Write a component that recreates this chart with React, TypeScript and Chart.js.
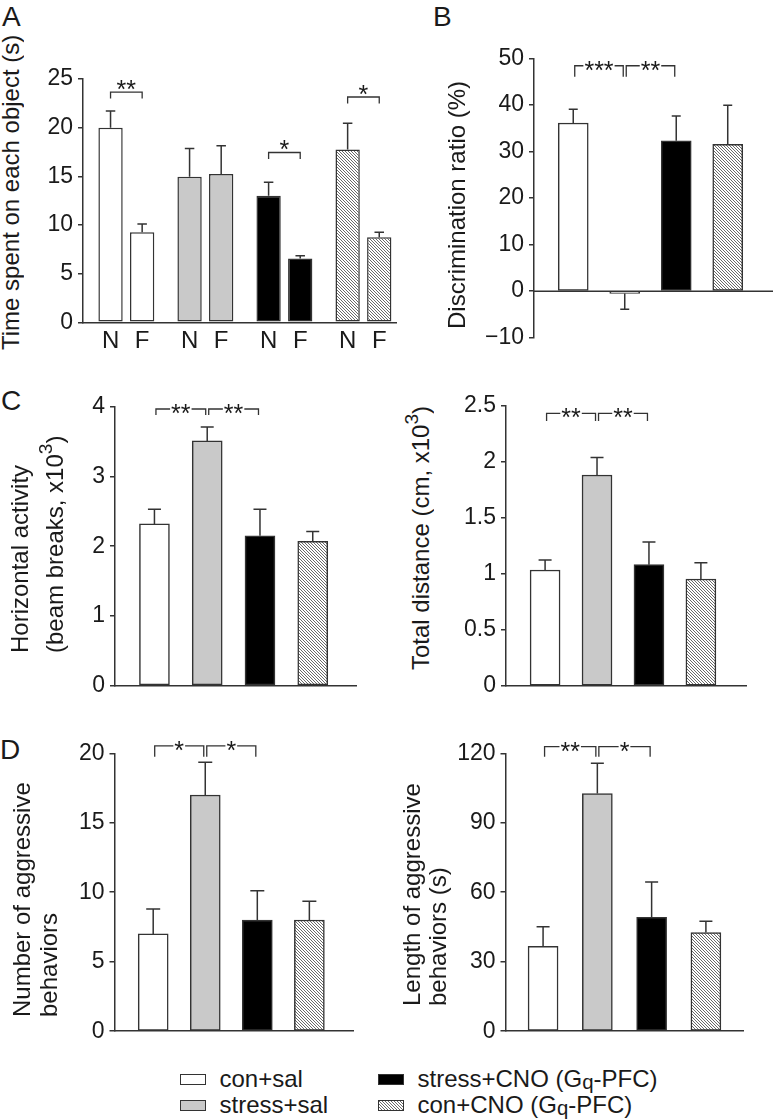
import React, { useEffect, useRef } from "react";
import { Chart, registerables } from "chart.js";

Chart.register(...registerables);

const FONT = "'Liberation Sans', Arial, Helvetica, sans-serif";
const INK = "#1a1a1a";
const LINE = "#333333";

// ---------- data ----------
const groups = ["con+sal", "stress+sal", "stress+CNO (Gq-PFC)", "con+CNO (Gq-PFC)"];
const groupFills = ["#ffffff", "#c9c9c9", "#000000", "hatch"];

// A: time spent on novel (N) / familiar (F) object
const objectLabels = ["N", "F"];
const novelTime = [20.0, 14.95, 13.0, 17.75];
const novelErr = [1.7, 2.9, 1.4, 2.7];
const familiarTime = [9.25, 15.25, 6.55, 8.75];
const familiarErr = [0.85, 2.9, 0.3, 0.5];
const timeTicks = [0, 5, 10, 15, 20, 25];
const timeSigGroups = [0, 2, 3];
const timeSigLabels = ["**", "*", "*"];
const timeSigLevels = [23.66, 17.45, 23.15];

// B: discrimination ratio
const discRatio = [36.1, -0.5, 32.3, 31.5];
const discErr = [2.95, 3.4, 5.3, 8.4];
const discTicks = [-10, 0, 10, 20, 30, 40, 50];
const discSig: [number, number, string][] = [[0, 1, "***"], [1, 2, "**"]];

// C: horizontal activity, total distance
const horizActivity = [2.32, 3.51, 2.15, 2.07];
const horizErr = [0.21, 0.2, 0.38, 0.14];
const horizTicks = [0, 1, 2, 3, 4];
const horizSig: [number, number, string][] = [[0, 1, "**"], [1, 2, "**"]];

const totalDist = [1.036, 1.884, 1.083, 0.955];
const totalDistErr = [0.089, 0.156, 0.203, 0.145];
const totalDistTicks = [0, 0.5, 1, 1.5, 2, 2.5];
const totalDistSig: [number, number, string][] = [[0, 1, "**"], [1, 2, "**"]];

// D: aggressive behaviours
const aggrCount = [7, 17, 8, 8];
const aggrCountErr = [1.8, 2.35, 2.1, 1.35];
const aggrCountTicks = [0, 5, 10, 15, 20];
const aggrCountSig: [number, number, string][] = [[0, 1, "*"], [1, 2, "*"]];

const aggrLength = [36.7, 102.6, 49.2, 42.6];
const aggrLengthErr = [8.4, 13.1, 15.2, 4.9];
const aggrLengthTicks = [0, 30, 60, 90, 120];
const aggrLengthSig: [number, number, string][] = [[0, 1, "**"], [1, 2, "*"]];

// ---------- helpers ----------
let hatchTile: HTMLCanvasElement | null = null;
function getHatchTile(): HTMLCanvasElement {
  if (hatchTile) return hatchTile;
  const c = document.createElement("canvas");
  c.width = 3;
  c.height = 3;
  const g = c.getContext("2d")!;
  g.fillStyle = "#ffffff";
  g.fillRect(0, 0, 3, 3);
  g.fillStyle = "#6a6a6a";
  for (let i = 0; i < 3; i++) g.fillRect(i, i, 1, 1);
  hatchTile = c;
  return c;
}

type SigItem = { a: [number, number]; b: [number, number]; label: string; level: number };

interface PanelCfg {
  left: number; top: number; width: number; height: number;
  axisX: number; plotTop: number; plotBottom: number; plotRight: number;
  yMin: number; yMax: number; yTicks: number[];
  xMin: number; xMax: number;
  series: { values: number[]; errors: number[] }[];
  barThickness?: number; barPct?: number; catPct?: number;
  capWidth: number;
  zeroLine?: boolean;
  sig: SigItem[];
  sigMode: "inline" | "above";
  sigDrop: number;
  sigInset: number;
  barLabels?: string[];
}

function pairSig(list: [number, number, string][], level: number): SigItem[] {
  return list.map(([f, t, l]) => ({ a: [0, f], b: [0, t], label: l, level }));
}

const fmtTick = (v: number) => (v < 0 ? "\u2212" + Math.abs(v) : String(v));

function buildChart(canvas: HTMLCanvasElement, cfg: PanelCfg) {
  const ctx0 = canvas.getContext("2d")!;
  const hatch = ctx0.createPattern(getHatchTile(), "repeat");
  const fills = groupFills.map((f) => (f === "hatch" ? hatch : f));

  const datasets = cfg.series.map((s) => {
    const d: any = {
      data: s.values.map((v, i) => ({ x: i, y: v })),
      backgroundColor: fills,
      borderColor: LINE,
      borderWidth: 1.5,
      borderSkipped: false,
      barPercentage: cfg.barPct ?? 0.9,
      categoryPercentage: cfg.catPct ?? 0.8,
    };
    if (cfg.barThickness) d.barThickness = cfg.barThickness;
    return d;
  });

  const yW = cfg.axisX - cfg.left;
  const pad = {
    left: 0,
    top: cfg.plotTop - cfg.top,
    right: cfg.left + cfg.width - cfg.plotRight,
    bottom: cfg.top + cfg.height - cfg.plotBottom,
  };

  const overlay = {
    id: "overlay",
    afterDatasetsDraw(chart: any) {
      const ctx: CanvasRenderingContext2D = chart.ctx;
      const ys = chart.scales.y;
      const area = chart.chartArea;
      ctx.save();
      ctx.strokeStyle = LINE;
      ctx.fillStyle = INK;
      if (cfg.zeroLine) {
        const y0 = ys.getPixelForValue(0);
        ctx.lineWidth = 1.5;
        ctx.beginPath();
        ctx.moveTo(area.left, y0);
        ctx.lineTo(area.right, y0);
        ctx.stroke();
      }
      // error bars
      ctx.lineWidth = 1.5;
      cfg.series.forEach((s, di) => {
        const meta = chart.getDatasetMeta(di);
        meta.data.forEach((el: any, i: number) => {
          const v = s.values[i];
          const e = s.errors[i];
          const sgn = v < 0 ? -1 : 1;
          const ya = ys.getPixelForValue(v);
          const yb = ys.getPixelForValue(v + sgn * e);
          ctx.beginPath();
          ctx.moveTo(el.x, ya);
          ctx.lineTo(el.x, yb);
          ctx.moveTo(el.x - cfg.capWidth / 2, yb);
          ctx.lineTo(el.x + cfg.capWidth / 2, yb);
          ctx.stroke();
        });
      });
      // significance brackets
      ctx.lineWidth = 1.3;
      ctx.font = `25px ${FONT}`;
      ctx.textAlign = "center";
      ctx.textBaseline = "alphabetic";
      cfg.sig.forEach((b) => {
        const yv = ys.getPixelForValue(b.level);
        const xa = chart.getDatasetMeta(b.a[0]).data[b.a[1]].x + cfg.sigInset;
        const xb = chart.getDatasetMeta(b.b[0]).data[b.b[1]].x - cfg.sigInset;
        const m = ctx.measureText(b.label);
        const mid = (m.actualBoundingBoxAscent - m.actualBoundingBoxDescent) / 2;
        const xm = (xa + xb) / 2;
        ctx.beginPath();
        if (cfg.sigMode === "inline") {
          ctx.moveTo(xa, yv + cfg.sigDrop);
          ctx.lineTo(xa, yv);
          ctx.lineTo(xm - m.width / 2 - 1, yv);
          ctx.moveTo(xm + m.width / 2 + 1, yv);
          ctx.lineTo(xb, yv);
          ctx.lineTo(xb, yv + cfg.sigDrop);
          ctx.stroke();
          ctx.fillText(b.label, xm, yv + mid);
        } else {
          ctx.moveTo(xa, yv + cfg.sigDrop);
          ctx.lineTo(xa, yv);
          ctx.lineTo(xb, yv);
          ctx.lineTo(xb, yv + cfg.sigDrop);
          ctx.stroke();
          ctx.fillText(b.label, xm, yv - 7 + mid);
        }
      });
      // per-bar labels (N / F)
      if (cfg.barLabels) {
        ctx.font = `24px ${FONT}`;
        ctx.textBaseline = "middle";
        cfg.barLabels.forEach((lab, di) => {
          chart.getDatasetMeta(di).data.forEach((el: any) => {
            ctx.fillText(lab, el.x, area.bottom + 19);
          });
        });
      }
      ctx.restore();
    },
  };

  return new Chart(canvas, {
    type: "bar",
    data: { datasets },
    options: {
      responsive: false,
      animation: false,
      events: [],
      layout: { padding: pad },
      plugins: { legend: { display: false }, tooltip: { enabled: false } },
      scales: {
        x: {
          type: "linear",
          min: cfg.xMin,
          max: cfg.xMax,
          offset: false,
          afterBuildTicks: (s: any) => { s.ticks = []; },
          afterFit: (s: any) => { s.height = 0; },
          ticks: { display: false },
          grid: { display: false },
          border: { display: !cfg.zeroLine, color: LINE, width: 1.5 },
        },
        y: {
          type: "linear",
          min: cfg.yMin,
          max: cfg.yMax,
          afterBuildTicks: (s: any) => { s.ticks = cfg.yTicks.map((v) => ({ value: v })); },
          afterFit: (s: any) => { s.width = yW; },
          ticks: {
            autoSkip: false,
            padding: 5,
            color: INK,
            font: { family: FONT, size: 23 },
            callback: (v: any) => fmtTick(Number(v)),
          },
          grid: { display: true, drawOnChartArea: false, drawTicks: true, tickLength: 5, color: LINE, lineWidth: 1.5 },
          border: { display: true, color: LINE, width: 1.5 },
        },
      },
    } as any,
    plugins: [overlay as any],
  });
}

// ---------- panel configs ----------
const panels: PanelCfg[] = [
  {
    left: 30, top: 40, width: 370, height: 325,
    axisX: 83, plotTop: 79, plotBottom: 322.3, plotRight: 396,
    yMin: 0, yMax: 25, yTicks: timeTicks,
    xMin: -0.5485, xMax: 3.412,
    series: [{ values: novelTime, errors: novelErr }, { values: familiarTime, errors: familiarErr }],
    barPct: 0.769, catPct: 0.8,
    capWidth: 9.5,
    sig: timeSigGroups.map((g, k) => ({ a: [0, g], b: [1, g], label: timeSigLabels[k], level: timeSigLevels[k] })),
    sigMode: "above", sigDrop: 6.5, sigInset: 0,
    barLabels: objectLabels,
  },
  {
    left: 470, top: 30, width: 305, height: 330,
    axisX: 534, plotTop: 58.3, plotBottom: 337.7, plotRight: 773,
    yMin: -10, yMax: 50, yTicks: discTicks,
    xMin: -0.762, xMax: 3.879,
    series: [{ values: discRatio, errors: discErr }],
    barThickness: 30, capWidth: 9, zeroLine: true,
    sig: pairSig(discSig, 48.4), sigMode: "inline", sigDrop: 11, sigInset: 1.5,
  },
  {
    left: 70, top: 380, width: 300, height: 330,
    axisX: 115, plotTop: 406.7, plotBottom: 685.7, plotRight: 356.7,
    yMin: 0, yMax: 4, yTicks: horizTicks,
    xMin: -0.7476, xMax: 3.833,
    series: [{ values: horizActivity, errors: horizErr }],
    barThickness: 30, capWidth: 13,
    sig: pairSig(horizSig, 3.967), sigMode: "inline", sigDrop: 6, sigInset: 1.5,
  },
  {
    left: 440, top: 380, width: 320, height: 330,
    axisX: 506, plotTop: 406, plotBottom: 686, plotRight: 746.7,
    yMin: 0, yMax: 2.5, yTicks: totalDistTicks,
    xMin: -0.7526, xMax: 3.882,
    series: [{ values: totalDist, errors: totalDistErr }],
    barThickness: 30, capWidth: 13,
    sig: pairSig(totalDistSig, 2.435), sigMode: "inline", sigDrop: 7.7, sigInset: 1.5,
  },
  {
    left: 70, top: 720, width: 300, height: 330,
    axisX: 114.5, plotTop: 753.3, plotBottom: 1032.4, plotRight: 353.3,
    yMin: 0, yMax: 20, yTicks: aggrCountTicks,
    xMin: -0.7435, xMax: 3.844,
    series: [{ values: aggrCount, errors: aggrCountErr }],
    barThickness: 30, capWidth: 14,
    sig: pairSig(aggrCountSig, 20.54), sigMode: "inline", sigDrop: 11, sigInset: 1.5,
  },
  {
    left: 455, top: 720, width: 305, height: 330,
    axisX: 505.5, plotTop: 753.3, plotBottom: 1032.2, plotRight: 743.3,
    yMin: 0, yMax: 120, yTicks: aggrLengthTicks,
    xMin: -0.6923, xMax: 3.689,
    series: [{ values: aggrLength, errors: aggrLengthErr }],
    barThickness: 30, capWidth: 13,
    sig: pairSig(aggrLengthSig, 122.85), sigMode: "inline", sigDrop: 10, sigInset: 1.5,
  },
];

// ---------- components ----------
function PanelChart({ cfg }: { cfg: PanelCfg }) {
  const ref = useRef<HTMLCanvasElement>(null);
  useEffect(() => {
    const chart = buildChart(ref.current!, cfg);
    return () => chart.destroy();
  }, [cfg]);
  return (
    <canvas
      ref={ref}
      width={cfg.width}
      height={cfg.height}
      style={{ position: "absolute", left: cfg.left, top: cfg.top, width: cfg.width, height: cfg.height }}
    />
  );
}

function VLabel(props: {
  left: number; lineHeight: number; center?: number; bottom?: number; lines: React.ReactNode[];
}) {
  const H = 360;
  const { left, lineHeight, center, bottom, lines } = props;
  const style: React.CSSProperties = {
    position: "absolute",
    left,
    width: lineHeight * lines.length,
    height: H,
    top: center !== undefined ? center - H / 2 : (bottom as number) - H,
    writingMode: "vertical-rl",
    transform: "rotate(180deg)",
    textAlign: center !== undefined ? "center" : "start",
    fontFamily: FONT,
    fontSize: 24,
    lineHeight: lineHeight + "px",
    whiteSpace: "nowrap",
    color: INK,
  };
  return (
    <div style={style}>
      {lines.map((l, i) => (
        <div key={i}>{l}</div>
      ))}
    </div>
  );
}

const Sup = ({ children }: { children: React.ReactNode }) => (
  <sup style={{ fontSize: "0.8em", lineHeight: 0 }}>{children}</sup>
);

function Letter({ text, left, top }: { text: string; left: number; top: number }) {
  return (
    <div style={{ position: "absolute", left, top, fontFamily: FONT, fontSize: 28, lineHeight: "28px", color: INK }}>
      {text}
    </div>
  );
}

function renderGroupName(name: string) {
  const parts = name.split("Gq");
  if (parts.length === 1) return name;
  return (
    <>
      {parts[0]}G<span style={{ fontSize: "0.85em", verticalAlign: "-0.12em", lineHeight: 0 }}>q</span>{parts[1]}
    </>
  );
}

function Legend() {
  const hatchUrl = getHatchTile().toDataURL();
  const colX = [180, 377.7];
  const textX = [219.5, 417.5];
  const rowTop = [1074, 1100];
  const textTop = [1066, 1091.5];
  return (
    <>
      {groups.map((g, i) => {
        const col = Math.floor(i / 2);
        const row = i % 2;
        const fill = groupFills[i];
        const swatch: React.CSSProperties = {
          position: "absolute",
          left: colX[col],
          top: rowTop[row],
          width: 26,
          height: 11,
          boxSizing: "border-box",
          border: `1.5px solid ${LINE}`,
          background: fill === "hatch" ? `url(${hatchUrl}) repeat` : fill,
        };
        return (
          <React.Fragment key={g}>
            <div style={swatch} />
            <div
              style={{
                position: "absolute",
                left: textX[col],
                top: textTop[row],
                fontFamily: FONT,
                fontSize: 24,
                lineHeight: "26px",
                whiteSpace: "nowrap",
                color: INK,
              }}
            >
              {renderGroupName(g)}
            </div>
          </React.Fragment>
        );
      })}
    </>
  );
}

export default function App() {
  return (
    <div
      style={{
        position: "absolute",
        left: 0,
        top: 0,
        width: 775,
        height: 1120,
        background: "#ffffff",
        overflow: "hidden",
        fontFamily: FONT,
      }}
    >
      {panels.map((p, i) => (
        <PanelChart key={i} cfg={p} />
      ))}

      <Letter text="A" left={2} top={2.5} />
      <Letter text="B" left={433} top={2.5} />
      <Letter text="C" left={1} top={387} />
      <Letter text="D" left={0} top={735.5} />

      <VLabel left={-1.5} lineHeight={24} center={191.5} lines={["Time spent on each object (s)"]} />
      <VLabel left={445} lineHeight={24} center={205} lines={["Discrimination ratio (%)"]} />
      <VLabel
        left={2.5}
        lineHeight={34.5}
        bottom={653}
        lines={["Horizontal activity", <>(beam breaks, x10<Sup>3</Sup>)</>]}
      />
      <VLabel left={409} lineHeight={24} center={538} lines={[<>Total distance (cm, x10<Sup>3</Sup>)</>]} />
      <VLabel left={8.3} lineHeight={27} bottom={1017} lines={["Number of aggressive", "behaviors"]} />
      <VLabel left={399} lineHeight={26} bottom={1006} lines={["Length of aggressive", "behaviors (s)"]} />

      <Legend />
    </div>
  );
}
